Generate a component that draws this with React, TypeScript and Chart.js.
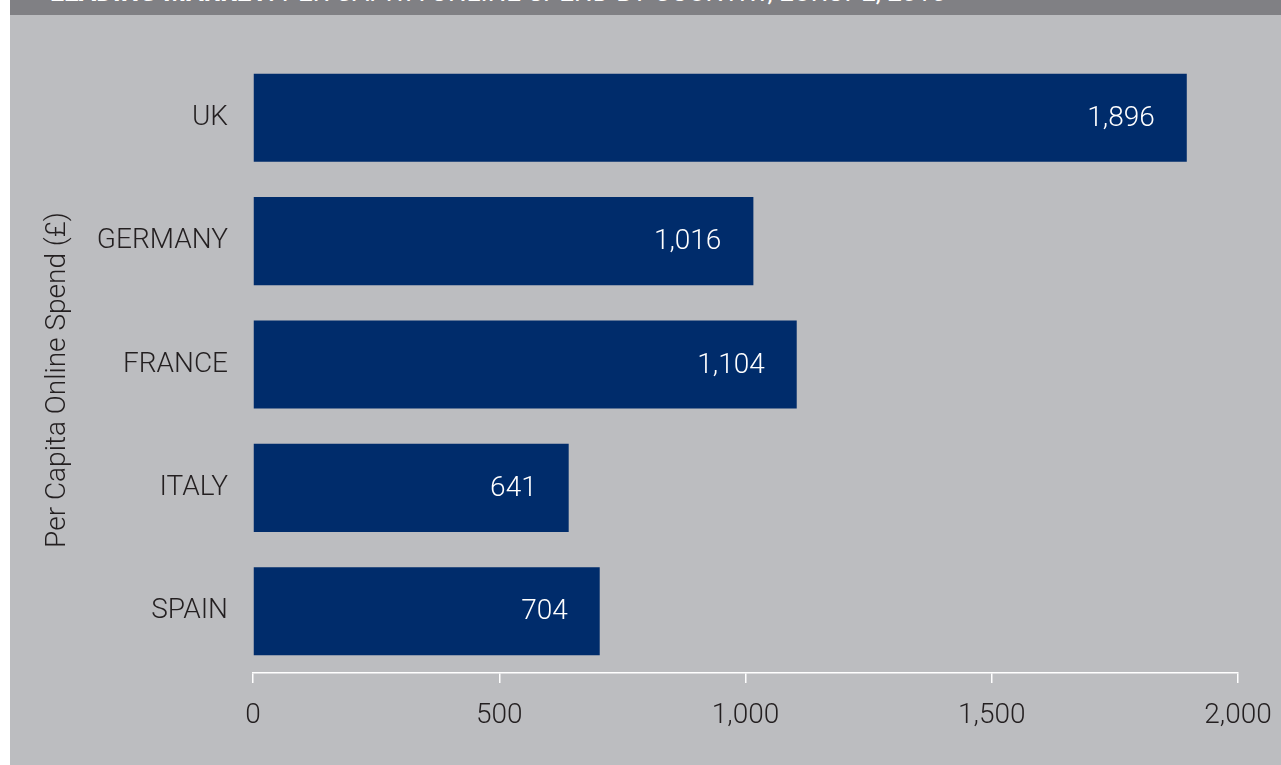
import React, { useEffect, useRef } from "react";
import { Chart, registerables } from "chart.js";

Chart.register(...registerables);

const categories = ["UK", "GERMANY", "FRANCE", "ITALY", "SPAIN"];
const spendValues = [1896, 1016, 1104, 641, 704];
const xTicks = [0, 500, 1000, 1500, 2000];
const axisTitle = "Per Capita Online Spend (£)";
const headerBold = "LEADING MARKET: ";
const headerRest = "PER CAPITA ONLINE SPEND BY COUNTRY, EUROPE, 2015";

const FONT = "Roboto";
const TEXT = "#231f20";
const BAR = "#002c6b";

const fmt = (v: number) => v.toLocaleString("en-US");

const customText = {
  id: "customText",
  afterDatasetsDraw(chart: any) {
    const ctx = chart.ctx;
    const meta = chart.getDatasetMeta(0);
    ctx.save();
    ctx.fillStyle = "#ffffff";
    ctx.font = `300 28px ${FONT}`;
    ctx.textAlign = "right";
    ctx.textBaseline = "middle";
    meta.data.forEach((bar: any, i: number) => {
      ctx.fillText(fmt(spendValues[i]), bar.x - 32, bar.y + 1);
    });
    ctx.restore();

    ctx.save();
    ctx.fillStyle = TEXT;
    ctx.font = `300 28px ${FONT}`;
    ctx.textAlign = "center";
    ctx.textBaseline = "middle";
    ctx.translate(58, 380);
    ctx.rotate(-Math.PI / 2);
    ctx.fillText(axisTitle, 0, 0);
    ctx.restore();
  },
};

export default function App() {
  const ref = useRef<HTMLCanvasElement | null>(null);

  useEffect(() => {
    if (!ref.current) return;
    const chart = new Chart(ref.current, {
      type: "bar",
      data: {
        labels: categories,
        datasets: [
          {
            data: spendValues,
            backgroundColor: BAR,
            barPercentage: 0.714,
            categoryPercentage: 1,
          },
        ],
      },
      options: {
        indexAxis: "y",
        responsive: false,
        animation: false,
        layout: { padding: { left: 40, top: 56, right: 43, bottom: 0 } },
        plugins: {
          legend: { display: false },
          tooltip: { enabled: false },
        },
        scales: {
          x: {
            min: 0,
            max: 2000,
            afterBuildTicks: (s: any) => {
              s.ticks = xTicks.map((v) => ({ value: v }));
            },
            afterFit: (s: any) => {
              s.height = 92;
              s.paddingLeft = 0;
              s.paddingRight = 0;
            },
            ticks: {
              color: TEXT,
              font: { family: FONT, size: 28, weight: "300" },
              padding: 16,
              callback: (v: any) => fmt(Number(v)),
              maxRotation: 0,
            },
            grid: {
              display: true,
              drawOnChartArea: false,
              drawTicks: true,
              tickLength: 10,
              color: "#ffffff",
              lineWidth: 1.5,
            },
            border: { display: true, color: "#ffffff", width: 1.5 },
          },
          y: {
            afterFit: (s: any) => {
              s.width = 213;
              s.paddingTop = 0;
              s.paddingBottom = 0;
            },
            ticks: {
              color: TEXT,
              font: { family: FONT, size: 28, weight: "300" },
              padding: 17,
            },
            grid: { display: false },
            border: { display: false },
          },
        },
      },
      plugins: [customText],
    });
    return () => chart.destroy();
  }, []);

  return (
    <div
      style={{
        position: "absolute",
        left: 0,
        top: 0,
        width: 1281,
        height: 765,
        background: "#ffffff",
        overflow: "hidden",
      }}
    >
      <div
        style={{
          position: "absolute",
          left: 10,
          top: 0,
          width: 1271,
          height: 765,
          background: "#bcbdc0",
        }}
      />
      <div
        style={{
          position: "absolute",
          left: 10,
          top: 0,
          width: 1271,
          height: 15,
          background: "#808084",
          overflow: "hidden",
        }}
      >
        <div
          style={{
            position: "absolute",
            left: 40,
            top: -21,
            whiteSpace: "nowrap",
            color: "#ffffff",
            fontFamily: FONT,
            fontSize: 26,
            lineHeight: "26px",
          }}
        >
          <span style={{ fontWeight: 700 }}>{headerBold}</span>
          <span style={{ fontWeight: 400 }}>{headerRest}</span>
        </div>
      </div>
      <canvas
        ref={ref}
        width={1281}
        height={765}
        style={{ position: "absolute", left: 0, top: 0, width: 1281, height: 765 }}
      />
    </div>
  );
}
